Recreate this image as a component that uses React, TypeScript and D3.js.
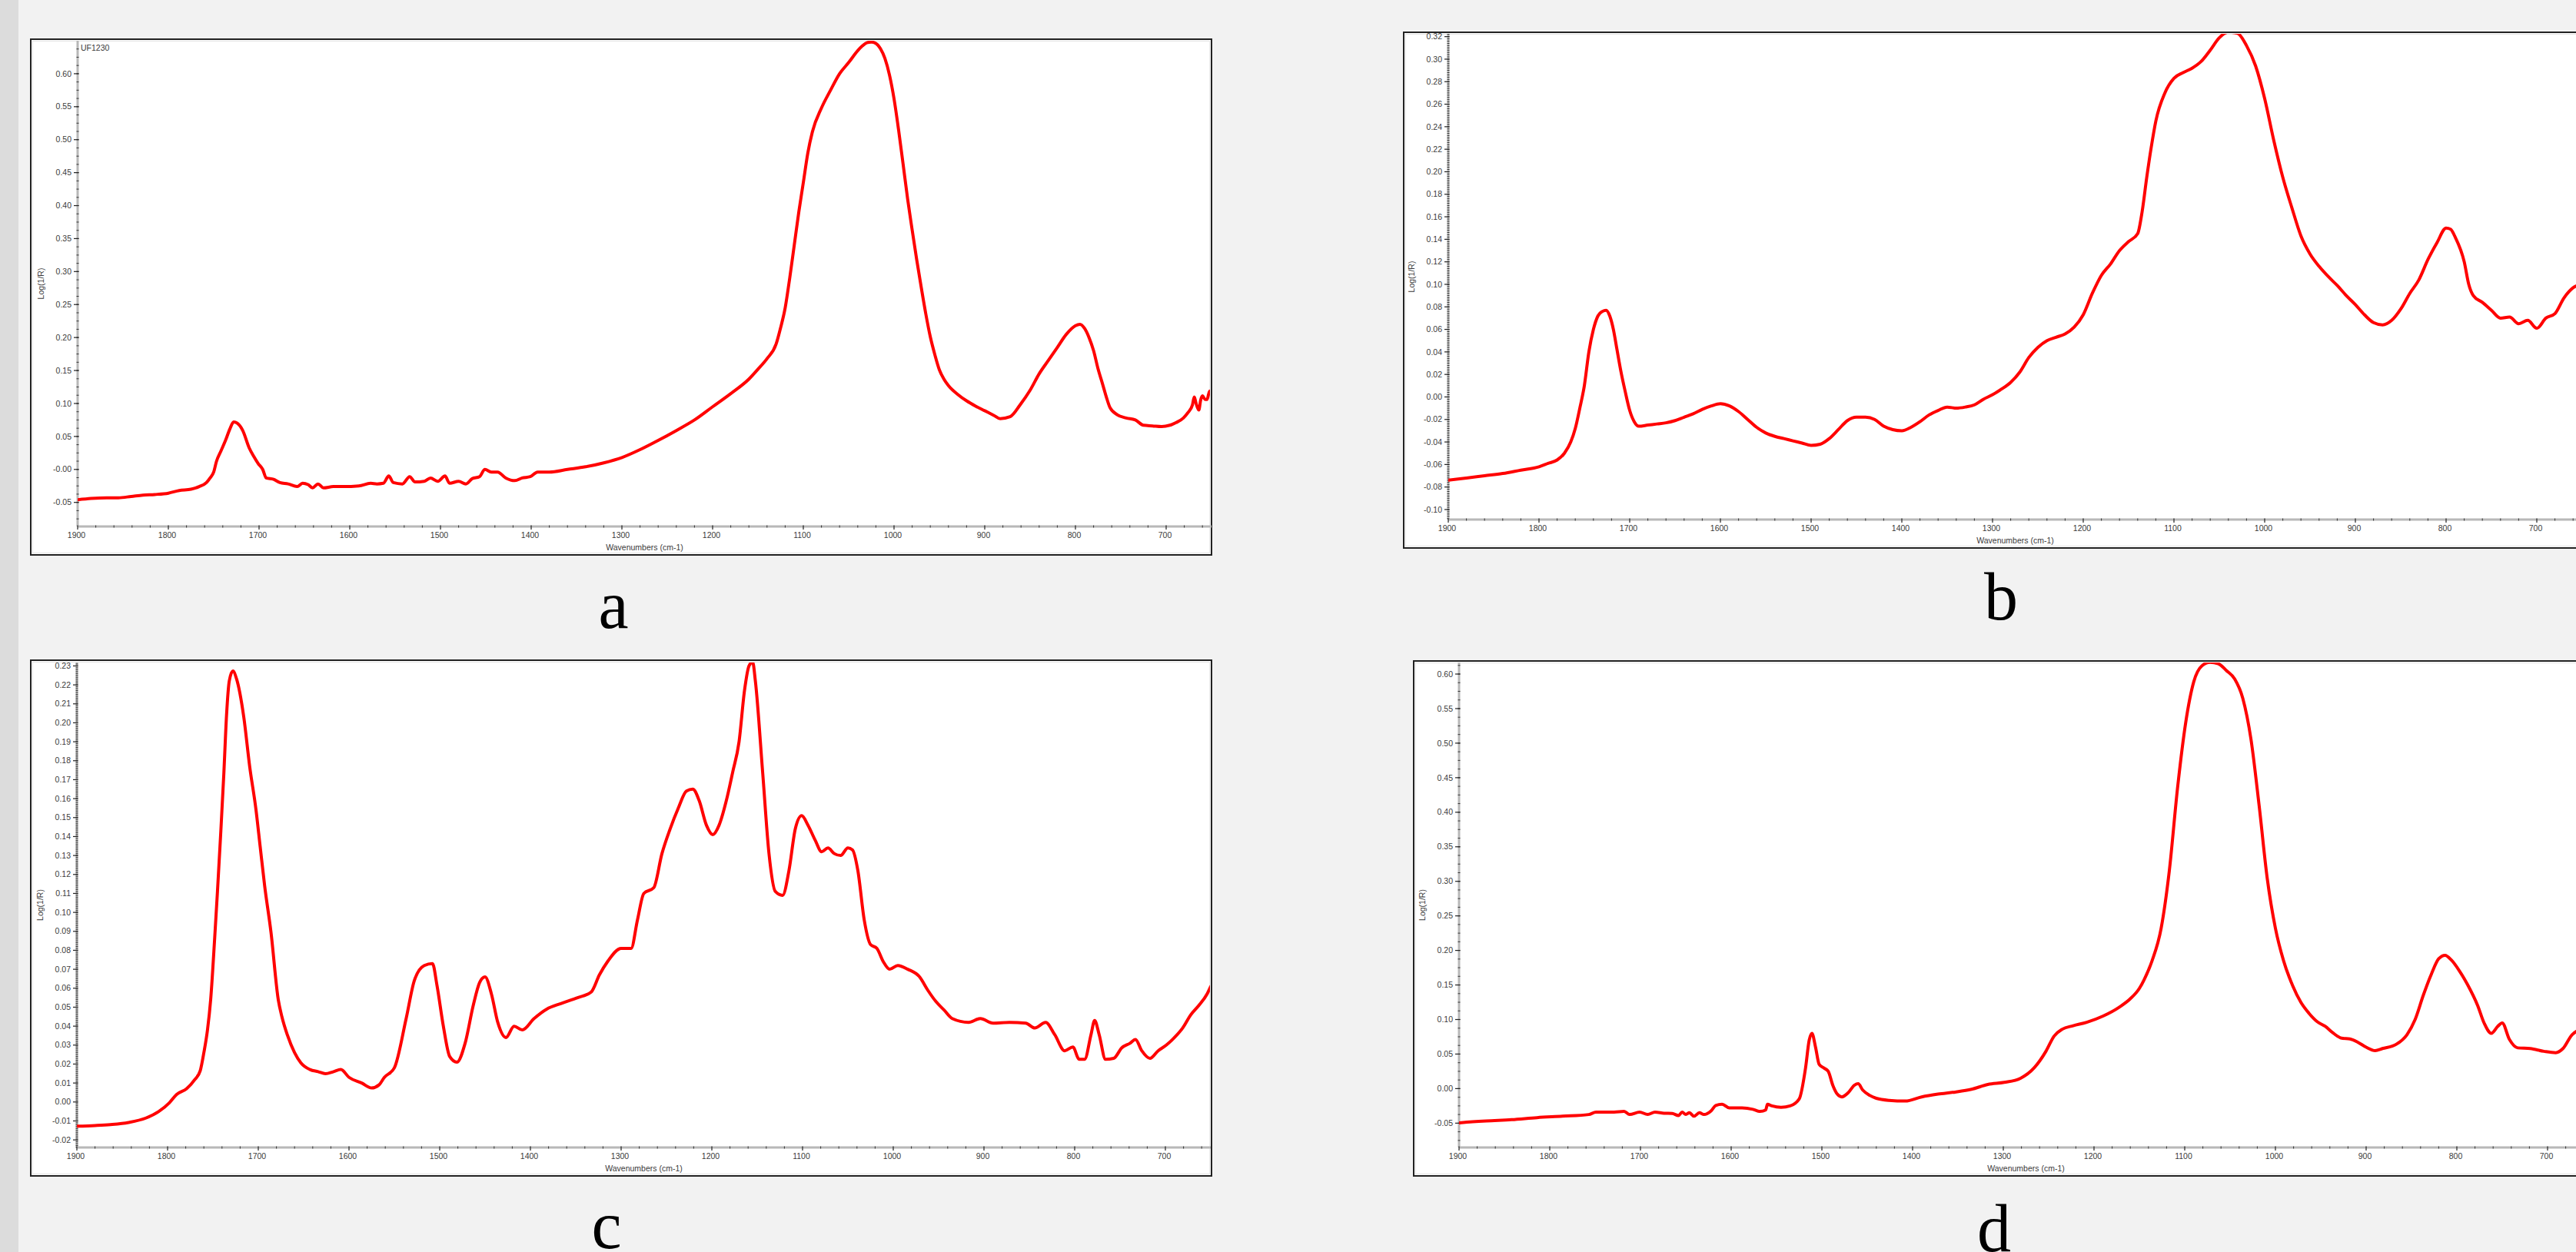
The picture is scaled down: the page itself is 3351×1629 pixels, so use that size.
import React from "react";
import * as d3 from "d3";

const W = 3351;
const H = 1629;

// ---------- tick labels ----------
const xTicks = [1900, 1800, 1700, 1600, 1500, 1400, 1300, 1200, 1100, 1000, 900, 800, 700];
const aYTicks = [-0.05, 0, 0.05, 0.1, 0.15, 0.2, 0.25, 0.3, 0.35, 0.4, 0.45, 0.5, 0.55, 0.6];
const aYLabels = ["-0.05", "-0.00", "0.05", "0.10", "0.15", "0.20", "0.25", "0.30", "0.35", "0.40", "0.45", "0.50", "0.55", "0.60"];
const bYTicks = [-0.1, -0.08, -0.06, -0.04, -0.02, 0, 0.02, 0.04, 0.06, 0.08, 0.1, 0.12, 0.14, 0.16, 0.18, 0.2, 0.22, 0.24, 0.26, 0.28, 0.3, 0.32];
const bYLabels = ["-0.10", "-0.08", "-0.06", "-0.04", "-0.02", "0.00", "0.02", "0.04", "0.06", "0.08", "0.10", "0.12", "0.14", "0.16", "0.18", "0.20", "0.22", "0.24", "0.26", "0.28", "0.30", "0.32"];
const cYTicks = [-0.02, -0.01, 0, 0.01, 0.02, 0.03, 0.04, 0.05, 0.06, 0.07, 0.08, 0.09, 0.1, 0.11, 0.12, 0.13, 0.14, 0.15, 0.16, 0.17, 0.18, 0.19, 0.2, 0.21, 0.22, 0.23];
const cYLabels = ["-0.02", "-0.01", "0.00", "0.01", "0.02", "0.03", "0.04", "0.05", "0.06", "0.07", "0.08", "0.09", "0.10", "0.11", "0.12", "0.13", "0.14", "0.15", "0.16", "0.17", "0.18", "0.19", "0.20", "0.21", "0.22", "0.23"];
const dYTicks = [-0.05, 0, 0.05, 0.1, 0.15, 0.2, 0.25, 0.3, 0.35, 0.4, 0.45, 0.5, 0.55, 0.6];
const dYLabels = ["-0.05", "0.00", "0.05", "0.10", "0.15", "0.20", "0.25", "0.30", "0.35", "0.40", "0.45", "0.50", "0.55", "0.60"];

// ---------- series: panel a ----------
const aWave = [1900, 1885, 1868, 1855, 1841, 1828, 1815, 1800, 1788, 1775, 1766, 1758, 1754, 1750, 1747, 1742, 1737, 1732, 1728, 1724, 1718, 1711, 1706, 1701, 1696, 1692, 1684, 1677, 1668, 1658, 1652, 1646, 1641, 1635, 1629, 1618, 1607, 1590, 1577, 1570, 1563, 1557, 1552, 1542, 1534, 1528, 1518, 1511, 1503, 1495, 1490, 1480, 1472, 1465, 1457, 1451, 1444, 1437, 1428, 1418, 1410, 1401, 1393, 1380, 1360, 1340, 1320, 1300, 1280, 1260, 1240, 1220, 1200, 1180, 1160, 1150, 1140, 1130, 1125, 1120, 1115, 1110, 1105, 1100, 1095, 1090, 1080, 1070, 1060, 1050, 1040, 1035, 1030, 1025, 1020, 1015, 1010, 1005, 1000, 995, 990, 985, 980, 975, 970, 965, 960, 955, 950, 945, 940, 930, 920, 910, 900, 890, 883, 872, 861, 850, 840, 830, 820, 810, 800, 795, 790, 785, 780, 775, 770, 766, 762, 754, 744, 734, 725, 715, 705, 696, 689, 681, 676, 671, 669, 667, 664, 662, 660, 657, 655, 652, 650];
const aVal = [-0.046, -0.044, -0.043, -0.043, -0.041, -0.039, -0.038, -0.036, -0.032, -0.03, -0.026, -0.02, -0.013, -0.004, 0.012, 0.028, 0.044, 0.062, 0.072, 0.07, 0.059, 0.033, 0.02, 0.009, 0.0, -0.013, -0.015, -0.02, -0.022, -0.026, -0.021, -0.023, -0.028, -0.022, -0.028, -0.026, -0.026, -0.025, -0.021, -0.022, -0.021, -0.01, -0.02, -0.022, -0.011, -0.019, -0.018, -0.013, -0.018, -0.01, -0.021, -0.018, -0.022, -0.014, -0.011, 0.0, -0.004, -0.004, -0.013, -0.017, -0.013, -0.011, -0.004, -0.004, 0.0, 0.004, 0.01, 0.018, 0.03, 0.044, 0.059, 0.075, 0.095, 0.115, 0.137, 0.152, 0.168, 0.19, 0.215, 0.245, 0.29, 0.34, 0.39, 0.435, 0.48, 0.512, 0.548, 0.575, 0.6, 0.617, 0.635, 0.642, 0.647, 0.648, 0.646, 0.638, 0.623, 0.598, 0.562, 0.515, 0.463, 0.41, 0.363, 0.318, 0.276, 0.236, 0.201, 0.174, 0.151, 0.137, 0.127, 0.114, 0.104, 0.096, 0.089, 0.082, 0.077, 0.08, 0.098, 0.12, 0.145, 0.165, 0.185, 0.205, 0.218, 0.22, 0.214, 0.2, 0.18, 0.152, 0.129, 0.11, 0.094, 0.083, 0.078, 0.075, 0.067, 0.066, 0.065, 0.067, 0.071, 0.078, 0.086, 0.098, 0.11, 0.1, 0.09, 0.105, 0.1115, 0.106, 0.106, 0.119, 0.118];

// ---------- series: panel b ----------
const bWave = [1900, 1880, 1860, 1840, 1820, 1800, 1790, 1780, 1772, 1765, 1760, 1755, 1750, 1745, 1740, 1735, 1730, 1726, 1722, 1718, 1714, 1710, 1705, 1700, 1695, 1690, 1680, 1670, 1660, 1650, 1640, 1630, 1620, 1610, 1600, 1590, 1580, 1570, 1560, 1550, 1540, 1530, 1520, 1510, 1500, 1490, 1480, 1470, 1460, 1450, 1440, 1430, 1420, 1410, 1400, 1390, 1380, 1370, 1360, 1350, 1340, 1330, 1320, 1310, 1300, 1290, 1280, 1270, 1260, 1250, 1240, 1230, 1220, 1210, 1200, 1190, 1180, 1170, 1160, 1150, 1140, 1135, 1130, 1125, 1120, 1110, 1100, 1090, 1080, 1070, 1060, 1050, 1040, 1030, 1020, 1010, 1000, 990, 980, 970, 960, 950, 940, 930, 920, 910, 900, 890, 880, 870, 860, 850, 840, 830, 820, 810, 800, 795, 790, 780, 775, 770, 760, 750, 740, 730, 720, 710, 700, 690, 680, 670, 660, 650];
const bVal = [-0.074, -0.072, -0.07, -0.068, -0.065, -0.062, -0.059, -0.056, -0.05, -0.04, -0.028, -0.01, 0.01, 0.04, 0.06, 0.072, 0.076, 0.077, 0.072, 0.06, 0.042, 0.024, 0.005, -0.012, -0.022, -0.026, -0.025, -0.024, -0.023, -0.021, -0.018, -0.015, -0.011, -0.008, -0.006, -0.008, -0.013, -0.02, -0.027, -0.032, -0.035, -0.037, -0.039, -0.041, -0.043, -0.042, -0.037, -0.029, -0.021, -0.018, -0.018, -0.02, -0.026, -0.029, -0.03, -0.027, -0.022, -0.016, -0.012, -0.009, -0.01, -0.009, -0.007, -0.002, 0.002, 0.007, 0.013, 0.022, 0.035, 0.044, 0.05, 0.053, 0.056, 0.062, 0.073, 0.092, 0.108, 0.118, 0.13, 0.138, 0.145, 0.165, 0.195, 0.222, 0.245, 0.27, 0.283, 0.288, 0.292, 0.298, 0.308, 0.319, 0.324, 0.323, 0.312, 0.294, 0.265, 0.228, 0.195, 0.168, 0.143, 0.127, 0.116, 0.107, 0.099, 0.09, 0.082, 0.073, 0.066, 0.064, 0.068, 0.078, 0.092, 0.104, 0.122, 0.137, 0.15, 0.149, 0.142, 0.12, 0.1, 0.09, 0.084, 0.077, 0.07, 0.071, 0.065, 0.068, 0.061, 0.07, 0.074, 0.088, 0.097, 0.1];

// ---------- series: panel c ----------
const cWave = [1900, 1880, 1863, 1843, 1824, 1810, 1798, 1790, 1779, 1770, 1764, 1760, 1756, 1752.5, 1748, 1745, 1741.5, 1738, 1735, 1732, 1728, 1724, 1716, 1709.5, 1702.5, 1698, 1693, 1686, 1678, 1674, 1668, 1660, 1653, 1643, 1634, 1626, 1617, 1609, 1600, 1586, 1575, 1567, 1561, 1550, 1537, 1528, 1517, 1508, 1503, 1496, 1489, 1481, 1472, 1463, 1456, 1450, 1443, 1436, 1427, 1418, 1409, 1396, 1382, 1366, 1348, 1333, 1324, 1315, 1300, 1289, 1282, 1275, 1264, 1255, 1246, 1237, 1228, 1221, 1214, 1206, 1199, 1192, 1184, 1177, 1170, 1164, 1159, 1155, 1152, 1144, 1137, 1130, 1122, 1115, 1108, 1101, 1094, 1086, 1079, 1072, 1065, 1058, 1050, 1045, 1039, 1032, 1025, 1018, 1011, 1004, 995, 984, 971, 962, 953, 944, 935, 917, 904, 890, 872, 854, 844, 832, 822, 811, 802, 795, 789, 782, 778, 773, 766, 757, 748, 739, 733, 726, 717, 708, 699, 690, 681, 672, 663, 654, 650];
const cVal = [-0.0128, -0.0124, -0.0119, -0.0108, -0.0085, -0.0051, -0.0004, 0.004, 0.007, 0.0118, 0.0165, 0.026, 0.038, 0.054, 0.087, 0.111, 0.141, 0.173, 0.204, 0.222, 0.2273, 0.2232, 0.203, 0.177, 0.154, 0.135, 0.114, 0.0895, 0.054, 0.045, 0.0354, 0.026, 0.0206, 0.0171, 0.016, 0.0149, 0.016, 0.0171, 0.013, 0.01, 0.0074, 0.009, 0.013, 0.018, 0.044, 0.064, 0.072, 0.073, 0.0615, 0.04, 0.024, 0.021, 0.031, 0.051, 0.063, 0.066, 0.057, 0.042, 0.034, 0.04, 0.038, 0.044, 0.049, 0.052, 0.055, 0.058, 0.067, 0.074, 0.081, 0.081, 0.096, 0.11, 0.113, 0.131, 0.144, 0.155, 0.164, 0.165, 0.159, 0.146, 0.141, 0.146, 0.159, 0.174, 0.19, 0.217, 0.23, 0.232, 0.222, 0.174, 0.131, 0.111, 0.109, 0.122, 0.144, 0.151, 0.146, 0.138, 0.132, 0.134, 0.131, 0.13, 0.134, 0.133, 0.122, 0.096, 0.083, 0.081, 0.074, 0.07, 0.072, 0.07, 0.066, 0.059, 0.053, 0.0485, 0.044, 0.042, 0.044, 0.0416, 0.042, 0.0416, 0.039, 0.042, 0.0355, 0.027, 0.029, 0.0225, 0.0225, 0.0355, 0.043, 0.0355, 0.0225, 0.023, 0.0286, 0.031, 0.033, 0.027, 0.023, 0.027, 0.03, 0.034, 0.039, 0.046, 0.051, 0.057, 0.061];

// ---------- series: panel d ----------
const dWave = [1900, 1885, 1870, 1842, 1814, 1786, 1757, 1749, 1729, 1718, 1712, 1701, 1692, 1684, 1674, 1665, 1658, 1654, 1650, 1646, 1641, 1635, 1630, 1622, 1617, 1610, 1602, 1588, 1576, 1568, 1562, 1560, 1555, 1545, 1535, 1525, 1518, 1514, 1511, 1507, 1503, 1498, 1493, 1488, 1483, 1478, 1471, 1464, 1460, 1455, 1447, 1440, 1426, 1408, 1390, 1372, 1353, 1335, 1317, 1299, 1281, 1266, 1253, 1244, 1235, 1223, 1208, 1190, 1172, 1160, 1150, 1145, 1136, 1126, 1117, 1108, 1099, 1090, 1081, 1072, 1063, 1054, 1045, 1036, 1027, 1018, 1009, 1000, 991, 981, 972, 963, 954, 945, 936, 927, 918, 909, 900, 890, 882, 867, 855, 846, 837, 828, 820, 813, 806, 797, 788, 777, 770, 762, 755, 750, 742, 733, 719, 704, 691, 683, 673, 668, 650];
const dVal = [-0.0497, -0.048, -0.0467, -0.045, -0.042, -0.04, -0.0375, -0.034, -0.034, -0.033, -0.0375, -0.034, -0.0375, -0.034, -0.0356, -0.036, -0.039, -0.034, -0.0375, -0.035, -0.04, -0.035, -0.0375, -0.032, -0.0245, -0.0227, -0.028, -0.028, -0.03, -0.033, -0.031, -0.0227, -0.025, -0.027, -0.025, -0.015, 0.03, 0.07, 0.08, 0.06, 0.035, 0.03, 0.025, 0.005, -0.008, -0.012, -0.006, 0.005, 0.007, -0.002, -0.01, -0.014, -0.017, -0.018, -0.012, -0.008, -0.005, -0.001, 0.006, 0.009, 0.015, 0.03, 0.054, 0.076, 0.086, 0.091, 0.096, 0.105, 0.118, 0.13, 0.145, 0.157, 0.185, 0.232, 0.315, 0.434, 0.529, 0.589, 0.612, 0.617, 0.615, 0.605, 0.593, 0.565, 0.506, 0.41, 0.304, 0.232, 0.185, 0.149, 0.125, 0.109, 0.097, 0.09, 0.08, 0.073, 0.072, 0.067, 0.06, 0.055, 0.058, 0.064, 0.078, 0.1, 0.135, 0.166, 0.188, 0.193, 0.186, 0.17, 0.15, 0.12, 0.095, 0.08, 0.09, 0.095, 0.071, 0.059, 0.058, 0.054, 0.052, 0.058, 0.078, 0.083, 0.09];

type PanelCfg = {
  id: string;
  frame: [number, number, number, number]; // left, top, right, bottom
  axisX: number;
  axisTop: number;
  axisBottom: number;
  yDomain: [number, number];
  yTicks: number[];
  yLabels: string[];
  yMinorStep: number;
  wave: number[];
  val: number[];
  letter: string;
  letterX: number;
  letterY: number;
  note?: string;
};

const panels: PanelCfg[] = [
  { id: "a", frame: [40, 51, 1576, 722], axisX: 101, axisTop: 53, axisBottom: 685, yDomain: [-0.0865, 0.65], yTicks: aYTicks, yLabels: aYLabels, yMinorStep: 0.0125, wave: aWave, val: aVal, letter: "a", letterX: 798, letterY: 817, note: "UF1230" },
  { id: "b", frame: [1826, 42, 3420, 713], axisX: 1884, axisTop: 44, axisBottom: 676, yDomain: [-0.1089, 0.3225], yTicks: bYTicks, yLabels: bYLabels, yMinorStep: 0.002, wave: bWave, val: bVal, letter: "b", letterX: 2603, letterY: 806 },
  { id: "c", frame: [40, 859, 1576, 1530], axisX: 100, axisTop: 862, axisBottom: 1493, yDomain: [-0.024, 0.2318], yTicks: cYTicks, yLabels: cYLabels, yMinorStep: 0.001, wave: cWave, val: cVal, letter: "c", letterX: 789, letterY: 1624 },
  { id: "d", frame: [1839, 860, 3420, 1530], axisX: 1898, axisTop: 862, axisBottom: 1493, yDomain: [-0.0852, 0.6167], yTicks: dYTicks, yLabels: dYLabels, yMinorStep: 0.0125, wave: dWave, val: dVal, letter: "d", letterX: 2594, letterY: 1628 },
];

const FONT = "'Liberation Sans', Arial, sans-serif";

function Panel({ p }: { p: PanelCfg }) {
  const [fl, ft, fr, fb] = p.frame;
  const x = d3.scaleLinear().domain([1900, 650]).range([p.axisX, p.axisX + 1250 * 1.18]);
  const y = d3.scaleLinear().domain(p.yDomain).range([p.axisBottom, p.axisTop]);
  const pts: [number, number][] = p.wave.map((w, i) => [w, p.val[i]]);
  const line = d3
    .line<[number, number]>()
    .x((d) => x(d[0]))
    .y((d) => y(d[1]))
    .curve(d3.curveMonotoneX);
  const xMinor = d3.range(1900, 649, -20).filter((v) => v % 100 !== 0);
  const nMinor = Math.floor((p.yDomain[1] - p.yDomain[0]) / p.yMinorStep) + 2;
  const start = Math.ceil(p.yDomain[0] / p.yMinorStep) * p.yMinorStep;
  const yMinor: number[] = [];
  for (let i = 0; i < nMinor; i++) {
    const v = start + i * p.yMinorStep;
    if (v <= p.yDomain[1]) yMinor.push(v);
  }
  const xEnd = x(650);
  const clipId = "clip-" + p.id;
  return (
    <g>
      <rect x={fl} y={ft} width={fr - fl} height={fb - ft} fill="#ffffff" stroke="#222" strokeWidth={2} />
      <rect x={fl + 2.5} y={ft + 2.5} width={fr - fl - 5} height={fb - ft - 5} fill="none" stroke="#e4e4e4" strokeWidth={1} />
      <defs>
        <clipPath id={clipId}>
          <rect x={p.axisX} y={p.axisTop} width={Math.min(xEnd, fr - 2) - p.axisX} height={p.axisBottom - p.axisTop} />
        </clipPath>
      </defs>
      {/* y axis */}
      <line x1={p.axisX} x2={p.axisX} y1={p.axisTop} y2={p.axisBottom} stroke="#b8b8b8" strokeWidth={3} />
      {yMinor.map((v, i) => (
        <line key={"ym" + i} x1={p.axisX - 1.5} x2={p.axisX + 1.5} y1={y(v)} y2={y(v)} stroke="#333" strokeWidth={1} />
      ))}
      {p.yTicks.map((v, i) => (
        <g key={"yt" + i}>
          <line x1={p.axisX - 5} x2={p.axisX + 1.5} y1={y(v)} y2={y(v)} stroke="#222" strokeWidth={1.2} />
          <text x={p.axisX - 8} y={y(v)} dy="0.35em" textAnchor="end" fontFamily={FONT} fontSize={10.5} fill="#3a3a3a">
            {p.yLabels[i]}
          </text>
        </g>
      ))}
      <text
        transform={`translate(${p.axisX - 48},${(p.axisTop + p.axisBottom) / 2}) rotate(-90)`}
        textAnchor="middle"
        dy="0.35em"
        fontFamily={FONT}
        fontSize={10.5}
        fill="#3a3a3a"
      >
        Log(1/R)
      </text>
      {/* x axis */}
      <line x1={p.axisX} x2={xEnd} y1={p.axisBottom} y2={p.axisBottom} stroke="#b8b8b8" strokeWidth={3} />
      {xMinor.map((v, i) => (
        <line key={"xm" + i} x1={x(v)} x2={x(v)} y1={p.axisBottom - 1.5} y2={p.axisBottom + 1.5} stroke="#333" strokeWidth={1} />
      ))}
      {xTicks.map((v, i) => (
        <g key={"xt" + i}>
          <line x1={x(v)} x2={x(v)} y1={p.axisBottom - 1.5} y2={p.axisBottom + 4} stroke="#222" strokeWidth={1.2} />
          <text x={x(v) - 1.5} y={p.axisBottom + 11} dy="0.35em" textAnchor="middle" fontFamily={FONT} fontSize={10.5} fill="#3a3a3a">
            {v}
          </text>
        </g>
      ))}
      <text x={(p.axisX + xEnd) / 2} y={p.axisBottom + 27} dy="0.35em" textAnchor="middle" fontFamily={FONT} fontSize={10.5} fill="#3a3a3a">
        Wavenumbers (cm-1)
      </text>
      {p.note ? (
        <text x={p.axisX + 4} y={p.axisTop + 9} dy="0.35em" fontFamily={FONT} fontSize={10.5} fill="#3a3a3a">
          {p.note}
        </text>
      ) : null}
      <path d={line(pts) || ""} fill="none" stroke="#ff0000" strokeWidth={4} strokeLinejoin="round" strokeLinecap="round" clipPath={`url(#${clipId})`} />
      <text x={p.letterX} y={p.letterY} textAnchor="middle" fontFamily="'Liberation Serif', 'Times New Roman', serif" fontSize={88} fill="#000">
        {p.letter}
      </text>
    </g>
  );
}

export default function App() {
  return (
    <svg
      width={W}
      height={H}
      viewBox={`0 0 ${W} ${H}`}
      style={{ position: "absolute", left: 0, top: 0, display: "block", overflow: "hidden" }}
    >
      <rect x={0} y={0} width={W} height={H} fill="#f2f2f2" />
      <rect x={0} y={0} width={24} height={H} fill="#dcdcdc" />
      {panels.map((p) => (
        <Panel key={p.id} p={p} />
      ))}
    </svg>
  );
}
